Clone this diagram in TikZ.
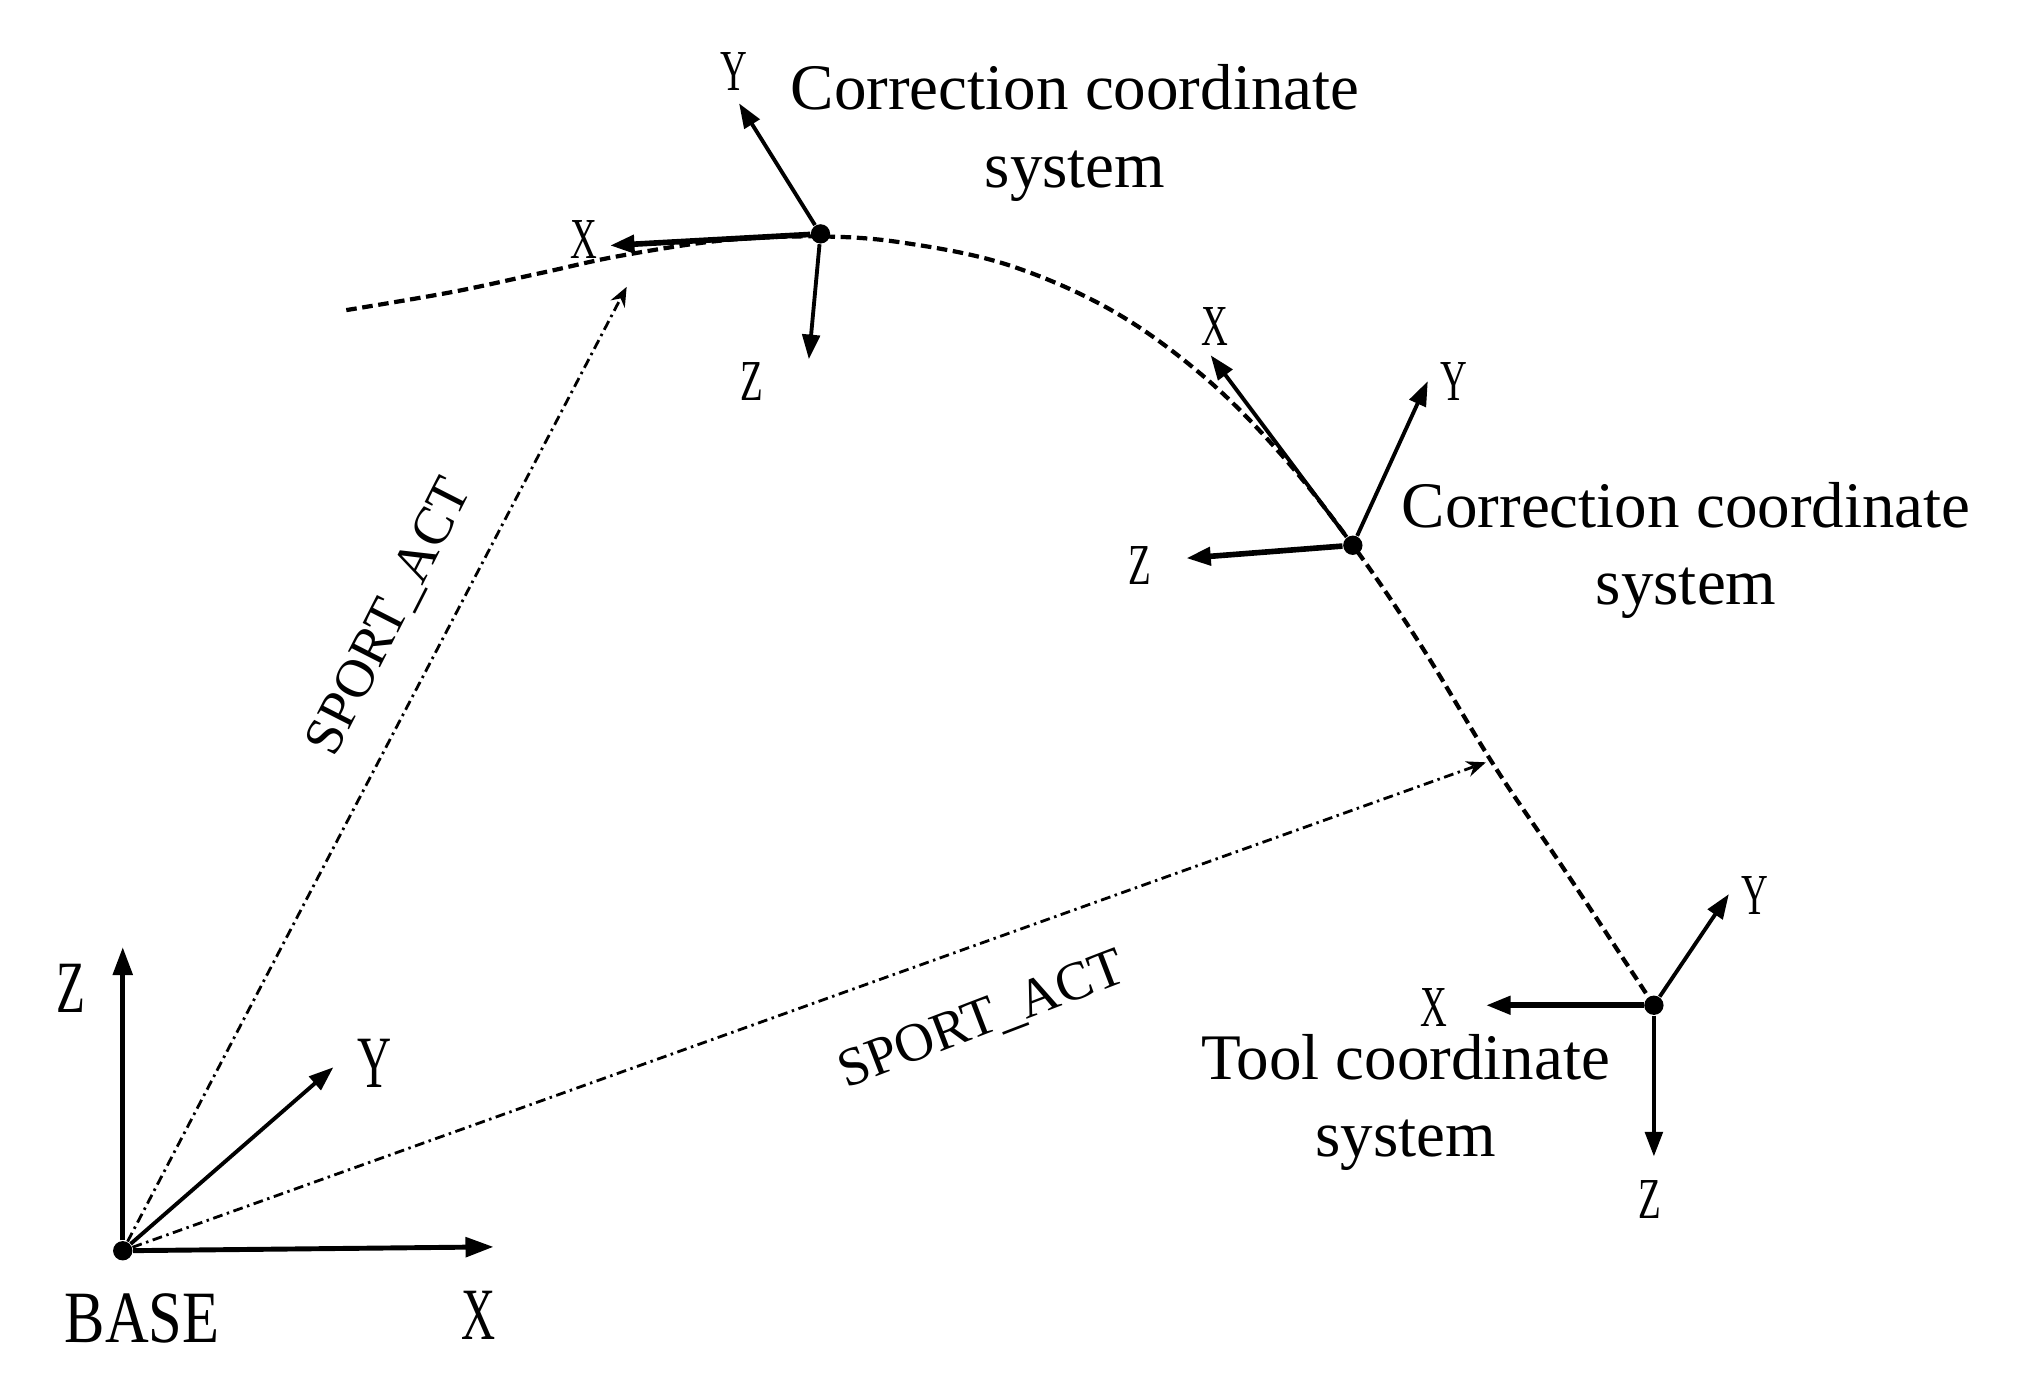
\documentclass[tikz,border=0pt]{standalone}
\usepackage{fontspec}
\setmainfont{Liberation Serif}
\newfontfamily\condfont{Liberation Serif}[FakeStretch=0.64]
\newfontfamily\medfont{Liberation Serif}[FakeStretch=0.82]
\usetikzlibrary{arrows.meta}
\begin{document}
\begin{tikzpicture}[x=0.012921cm,y=-0.012921cm,
  dot/.style={circle,fill=black,inner sep=0pt,minimum size=5.5pt},
  axis/.style={line width=1.1pt,-{Triangle[length=7pt,width=5pt]}},
  boldaxis/.style={line width=1.6pt,-{Triangle[length=7pt,width=5pt]}},
  baseaxis/.style={line width=1.4pt,-{Triangle[length=8pt,width=5.5pt]}},
  axlabel/.style={font=\condfont\fontsize{16.5}{16.5}\selectfont,inner sep=0pt},
  baselabel/.style={font=\condfont\fontsize{21}{21}\selectfont,inner sep=0pt},
  basename/.style={font=\medfont\fontsize{21}{21}\selectfont,inner sep=0pt},
  capt/.style={align=center,font=\fontsize{18.5}{22}\selectfont,inner sep=0pt},
  trajline/.style={line width=1.2pt,dash pattern=on 3pt off 1.6pt},
  sport/.style={line width=0.8pt,dash pattern=on 2.8pt off 1.3pt on 0.7pt off 1.3pt,-{Stealth[length=5.5pt,width=4.5pt]}},
  sportlabel/.style={font=\fontsize{15.5}{15.5}\selectfont,inner sep=0pt}]
\useasboundingbox (0,0) rectangle (1568,1081);

% trajectory
\draw[trajline] plot[smooth,tension=0.6] coordinates {(268,240) (350,226) (420,211) (480,198) (560,186) (635,183) (700,188) (780,205) (860,240) (930,290) (990,350) (1047,422) (1100,500) (1156,592) (1210,672) (1280,778)};

% dots
\node[dot] (base) at (95,968) {};
\node[dot] (top) at (635,181) {};
\node[dot] (mid) at (1047,422) {};
\node[dot] (tool) at (1280,778) {};

% tips
\coordinate (bZ) at (95,733);
\coordinate (bX) at (382,965);
\coordinate (bY) at (258,826);
\coordinate (tX) at (472,190);
\coordinate (tY) at (572,80);
\coordinate (tZ) at (626,278);
\coordinate (mX) at (937,275);
\coordinate (mY) at (1105,295);
\coordinate (mZ) at (918,432);
\coordinate (oX) at (1150,778);
\coordinate (oY) at (1338,692);
\coordinate (oZ) at (1280,895);
\coordinate (s1) at (485,222);
\coordinate (s2) at (1150,590);

% base axes
\draw[baseaxis] (base) -- (bZ);
\draw[baseaxis] (base) -- (bX);
\draw[axis] (base) -- (bY);
% top frame
\draw[boldaxis] (top) -- (tX);
\draw[axis] (top) -- (tY);
\draw[axis] (top) -- (tZ);
% mid frame
\draw[axis] (mid) -- (mX);
\draw[axis] (mid) -- (mY);
\draw[boldaxis] (mid) -- (mZ);
% tool frame
\draw[boldaxis] (tool) -- (oX);
\draw[axis] (tool) -- (oY);
\draw[axis] (tool) -- (oZ);

% SPORT_ACT vectors
\draw[sport] (base) -- (s1);
\draw[sport] (base) -- (s2);
\node[sportlabel,rotate=63] (sl1) at (302,478) {SPORT\_ACT};
\node[sportlabel,rotate=21] (sl2) at (760,790) {SPORT\_ACT};

% labels
\node[baselabel] (lbZ) at (55,765) {Z};
\node[baselabel] (lbY) at (290,823) {Y};
\node[baselabel] (lbX) at (370,1018) {X};
\node[basename] (lbase) at (110,1020) {BASE};

\node[axlabel] (ltX) at (452,185) {X};
\node[axlabel] (ltY) at (568,55) {Y};
\node[axlabel] (ltZ) at (582,295) {Z};

\node[axlabel] (lmX) at (940,253) {X};
\node[axlabel] (lmY) at (1125,295) {Y};
\node[axlabel] (lmZ) at (882,438) {Z};

\node[axlabel] (loX) at (1110,780) {X};
\node[axlabel] (loY) at (1358,693) {Y};
\node[axlabel] (loZ) at (1277,928) {Z};

\node[capt] (ctop) at (832,103) {Correction coordinate\\system};
\node[capt] (cmid) at (1305,426) {Correction coordinate\\system};
\node[capt] (ctool) at (1088,853) {Tool coordinate\\system};
\end{tikzpicture}
\end{document}
